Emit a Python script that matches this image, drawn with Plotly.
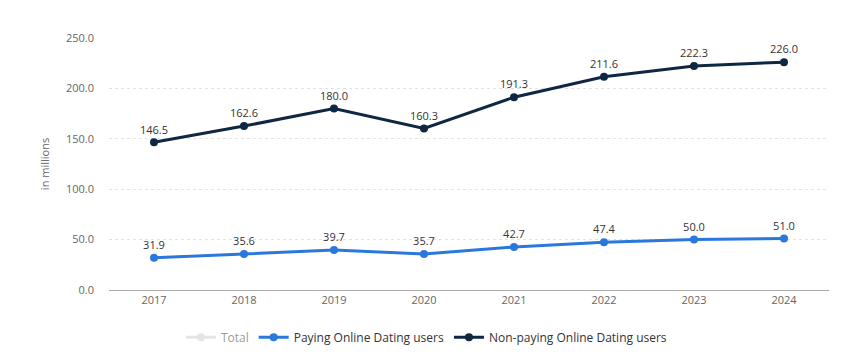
import plotly.graph_objects as go

years = ["2017", "2018", "2019", "2020", "2021", "2022", "2023", "2024"]
paying = [31.9, 35.6, 39.7, 35.7, 42.7, 47.4, 50.0, 51.0]
non_paying = [146.5, 162.6, 180.0, 160.3, 191.3, 211.6, 222.3, 226.0]
total = [178.4, 198.2, 219.7, 196.0, 234.0, 259.0, 272.3, 277.0]
y_ticks = [0, 50, 100, 150, 200, 250]

fig = go.Figure()
fig.add_trace(go.Scatter(x=years, y=total, name="Total", mode="lines+markers",
                         visible="legendonly", line=dict(color="#cccccc", width=3),
                         marker=dict(size=8)))
fig.add_trace(go.Scatter(x=years, y=paying, name="Paying Online Dating users",
                         mode="lines+markers+text", text=[f"{v:.1f}" for v in paying],
                         textposition="top center", textfont=dict(size=11, color="#333333"),
                         line=dict(color="#2a78dc", width=3), marker=dict(size=8, color="#2a78dc"),
                         cliponaxis=False))
fig.add_trace(go.Scatter(x=years, y=non_paying, name="Non-paying Online Dating users",
                         mode="lines+markers+text", text=[f"{v:.1f}" for v in non_paying],
                         textposition="top center", textfont=dict(size=11, color="#333333"),
                         line=dict(color="#0f2742", width=3), marker=dict(size=8, color="#0f2742"),
                         cliponaxis=False))

fig.add_shape(type="rect", xref="paper", yref="paper", x0=1.0486, x1=1.2, y0=-0.4, y1=1.2,
              fillcolor="#eceef4", line=dict(width=0), layer="above")

fig.update_layout(
    width=868, height=358,
    margin=dict(l=101, r=47, t=30, b=76, autoexpand=False),
    paper_bgcolor="white", plot_bgcolor="white",
    font=dict(family="Open Sans, sans-serif", size=11, color="#666666"),
    showlegend=True,
    legend=dict(orientation="h", xref="container", x=0.482, xanchor="center",
                yref="container", y=0.04, yanchor="bottom",
                font=dict(size=12, color="#333333"), itemwidth=30, tracegroupgap=0),
    xaxis=dict(type="category", range=[-0.5, 7.5], showgrid=False, showline=True,
               linecolor="#aaaaaa", linewidth=1, ticks="", automargin=False,
               tickfont=dict(size=11, color="#666666")),
    yaxis=dict(range=[0, 250], tickvals=y_ticks, ticktext=[f"{v:.1f}" for v in y_ticks],
               showgrid=True, gridcolor="#e2e2e2", griddash="dot", gridwidth=1,
               zeroline=False, showline=False, ticks="", ticklabelstandoff=14,
               automargin=False,
               title=dict(text="in millions", font=dict(size=11, color="#666666"), standoff=14),
               tickfont=dict(size=11, color="#666666")),
)

fig.write_html("out.html")
